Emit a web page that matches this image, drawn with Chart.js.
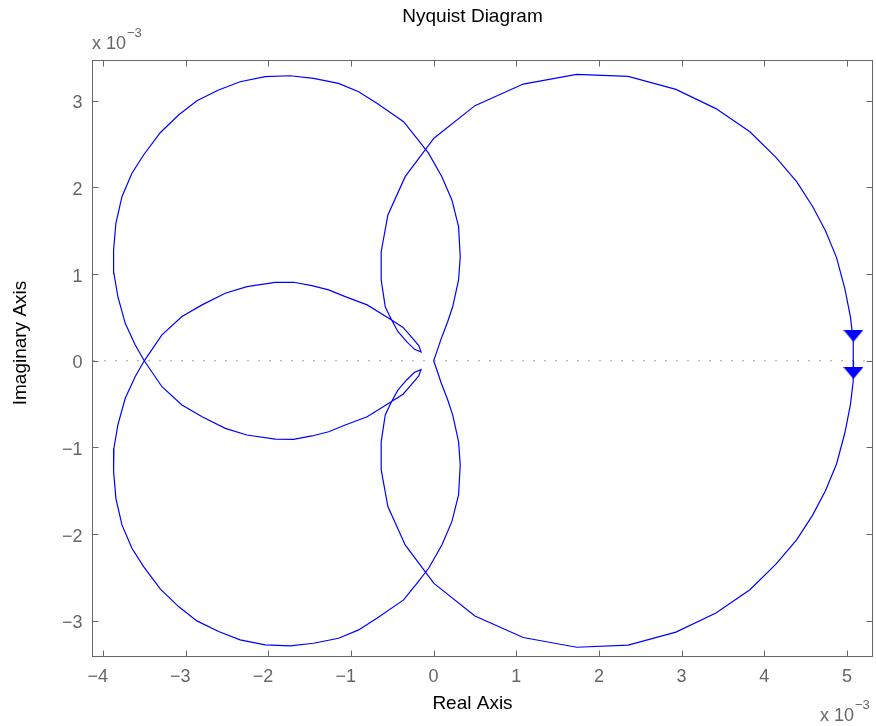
<!DOCTYPE html>
<html>
<head>
<meta charset="utf-8">
<title>Nyquist Diagram</title>
<script src="https://cdn.jsdelivr.net/npm/chart.js@4.4.1/dist/chart.umd.min.js"></script>
<style>
  html, body { margin: 0; padding: 0; background: #fff; }
  canvas { display: block; }
</style>
</head>
<body>
<canvas id="nyquist" width="876" height="726"></canvas>
<script>
// Frequency response, both axes in units of 1e-3.
// w > 0 branch, from w = 0 (right) to w -> inf (origin)
const posRe = [5.08, 5.076, 5.043, 4.975, 4.874, 4.74, 4.585, 4.391, 4.141, 3.826, 3.415, 2.931, 2.354, 1.73, 1.084, 0.5, 0.004,
  -0.344, -0.553, -0.634, -0.634, -0.585, -0.508, -0.43, -0.326, -0.23, -0.152, -0.18, -0.266, -0.37, -0.508,
  -0.804, -1.069, -1.27, -1.472, -1.694, -1.916, -2.258, -2.52, -2.8, -3.044, -3.286, -3.5,
  -3.609, -3.73, -3.819, -3.867, -3.871, -3.843, -3.77, -3.649, -3.508, -3.307, -3.085, -2.863, -2.601, -2.34, -2.037,
  -1.735, -1.452, -1.149, -0.907, -0.686, -0.363, -0.202, -0.06, 0.1, 0.221, 0.302, 0.322, 0.302, 0.23, 0.17, 0.09, 0.03, 0];
const posIm = [0, -0.23, -0.5, -0.83, -1.19, -1.5, -1.78, -2.066, -2.346, -2.641, -2.909, -3.13, -3.28, -3.304, -3.192, -2.943, -2.567,
  -2.124, -1.682, -1.258, -0.932, -0.624, -0.47, -0.335, -0.221, -0.132, -0.102, -0.175, -0.273, -0.385, -0.47,
  -0.645, -0.74, -0.818, -0.867, -0.906, -0.904, -0.856, -0.779, -0.645, -0.51, -0.299, 0,
  0.182, 0.432, 0.739, 1.009, 1.278, 1.586, 1.893, 2.163, 2.374, 2.631, 2.835, 3.0, 3.123, 3.219, 3.277,
  3.288, 3.258, 3.2, 3.104, 2.97, 2.758, 2.566, 2.393, 2.124, 1.855, 1.547, 1.201, 0.932, 0.62, 0.45, 0.25, 0.08, 0];

// w < 0 branch (complex conjugate of the above)
const negRe = [5.08, 5.076, 5.043, 4.975, 4.874, 4.74, 4.585, 4.391, 4.141, 3.826, 3.415, 2.931, 2.354, 1.73, 1.084, 0.5, 0.004,
  -0.344, -0.553, -0.634, -0.634, -0.585, -0.508, -0.43, -0.326, -0.23, -0.152, -0.18, -0.266, -0.37, -0.508,
  -0.804, -1.069, -1.27, -1.472, -1.694, -1.916, -2.258, -2.52, -2.8, -3.044, -3.286, -3.5,
  -3.609, -3.73, -3.819, -3.867, -3.871, -3.843, -3.77, -3.649, -3.508, -3.307, -3.085, -2.863, -2.601, -2.34, -2.037,
  -1.735, -1.452, -1.149, -0.907, -0.686, -0.363, -0.202, -0.06, 0.1, 0.221, 0.302, 0.322, 0.302, 0.23, 0.17, 0.09, 0.03, 0];
const negIm = [0, 0.23, 0.5, 0.83, 1.19, 1.5, 1.78, 2.066, 2.346, 2.641, 2.909, 3.13, 3.28, 3.304, 3.192, 2.943, 2.567,
  2.124, 1.682, 1.258, 0.932, 0.624, 0.47, 0.335, 0.221, 0.132, 0.102, 0.175, 0.273, 0.385, 0.47,
  0.645, 0.74, 0.818, 0.867, 0.906, 0.904, 0.856, 0.779, 0.645, 0.51, 0.299, 0,
  -0.182, -0.432, -0.739, -1.009, -1.278, -1.586, -1.893, -2.163, -2.374, -2.631, -2.835, -3.0, -3.123, -3.219, -3.277,
  -3.288, -3.258, -3.2, -3.104, -2.97, -2.758, -2.566, -2.393, -2.124, -1.855, -1.547, -1.201, -0.932, -0.62, -0.45, -0.25, -0.08, 0];

// direction arrows next to the w = 0 point
const arrowRe = [5.078, 5.078];
const arrowIm = [0.288, -0.141];

const xTicks = [-4, -3, -2, -1, 0, 1, 2, 3, 4, 5];
const yTicks = [-3, -2, -1, 0, 1, 2, 3];
const xLimits = [-4.12, 5.315];
const yLimits = [-3.405, 3.458];

const axisGray = '#666666';
const fontFamily = '"Liberation Sans", Arial, Helvetica, sans-serif';

function toPoints(re, im) {
  return re.map((v, i) => ({ x: v, y: im[i] }));
}

function tickText(v) {
  return v < 0 ? '\u2212' + Math.abs(v) : String(v);
}

// filled triangle used as the arrow marker
const arrowHead = document.createElement('canvas');
arrowHead.width = 20;
arrowHead.height = 12;
const actx = arrowHead.getContext('2d');
actx.fillStyle = '#0000ff';
actx.beginPath();
actx.moveTo(0, 0);
actx.lineTo(20, 0);
actx.lineTo(10, 12);
actx.closePath();
actx.fill();

// box, inward ticks, tick labels and titles
const axesDecor = {
  id: 'axesDecor',
  afterDatasetsDraw(chart) {
    const { ctx, chartArea: a, scales: { x, y } } = chart;
    const left = a.left - 0.5, right = a.right - 0.5, top = a.top - 0.5, bottom = a.bottom + 0.5;
    ctx.save();
    ctx.strokeStyle = axisGray;
    ctx.lineWidth = 1;
    ctx.strokeRect(left, top, right - left, bottom - top);

    ctx.beginPath();
    xTicks.forEach(v => {
      const px = Math.round(x.getPixelForValue(v)) + 0.5;
      ctx.moveTo(px, bottom); ctx.lineTo(px, bottom - 6);
      ctx.moveTo(px, top); ctx.lineTo(px, top + 6);
    });
    yTicks.forEach(v => {
      const py = Math.round(y.getPixelForValue(v)) + 0.5;
      ctx.moveTo(left, py); ctx.lineTo(left + 6, py);
      ctx.moveTo(right, py); ctx.lineTo(right - 6, py);
    });
    ctx.stroke();

    ctx.fillStyle = axisGray;
    ctx.font = '18px ' + fontFamily;
    ctx.textBaseline = 'alphabetic';
    ctx.textAlign = 'right';
    xTicks.forEach(v => {
      const px = x.getPixelForValue(v);
      const dw = ctx.measureText(String(Math.abs(v))).width;
      ctx.fillText(tickText(v), px + dw / 2, 682);
    });
    yTicks.forEach(v => {
      ctx.fillText(tickText(v), 82.5, y.getPixelForValue(v) + 7.5);
    });

    // scale factor labels
    ctx.textAlign = 'left';
    [[92, 49], [820, 721]].forEach(([tx, ty]) => {
      ctx.font = '18px ' + fontFamily;
      ctx.fillText('x 10', tx, ty);
      const w = ctx.measureText('x 10').width;
      ctx.font = '13px ' + fontFamily;
      ctx.fillText('\u22123', tx + w + 1, ty - 12);
    });

    ctx.fillStyle = '#000000';
    ctx.font = '19px ' + fontFamily;
    ctx.textAlign = 'center';
    ctx.fillText('Nyquist Diagram', 472.5, 22);
    ctx.fillText('Real Axis', 472.5, 709);
    ctx.translate(26, 343);
    ctx.rotate(-Math.PI / 2);
    ctx.fillText('Imaginary Axis', 0, 0);
    ctx.restore();
  }
};

new Chart(document.getElementById('nyquist'), {
  type: 'scatter',
  data: {
    datasets: [
      {
        data: toPoints(arrowRe, arrowIm),
        pointStyle: arrowHead,
        pointRadius: 6,
        showLine: false,
        order: 0
      },
      {
        data: toPoints(posRe, posIm),
        showLine: true,
        borderColor: '#0000ff',
        borderWidth: 1.2,
        pointRadius: 0,
        tension: 0,
        order: 1
      },
      {
        data: toPoints(negRe, negIm),
        showLine: true,
        borderColor: '#0000ff',
        borderWidth: 1.2,
        pointRadius: 0,
        tension: 0,
        order: 1
      },
      {
        // real axis reference line
        data: [{ x: xLimits[0], y: 0 }, { x: xLimits[1], y: 0 }],
        showLine: true,
        borderColor: '#a0a0a0',
        borderWidth: 1,
        borderDash: [2, 9],
        pointRadius: 0,
        order: 2
      }
    ]
  },
  options: {
    responsive: false,
    animation: false,
    layout: { autoPadding: false, padding: { left: 93, top: 61, right: 3, bottom: 70 } },
    plugins: { legend: { display: false }, tooltip: { enabled: false } },
    scales: {
      x: { type: 'linear', min: xLimits[0], max: xLimits[1], display: false },
      y: { type: 'linear', min: yLimits[0], max: yLimits[1], display: false }
    }
  },
  plugins: [axesDecor]
});
</script>
</body>
</html>
